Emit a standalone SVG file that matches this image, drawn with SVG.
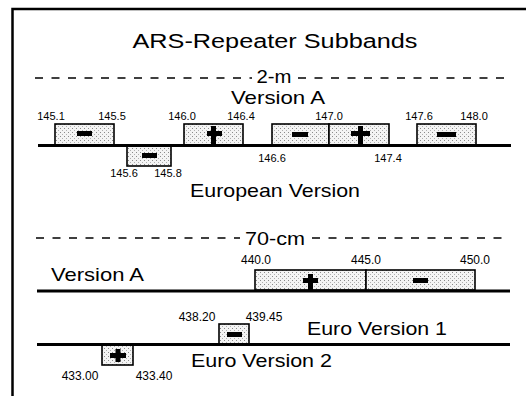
<svg xmlns="http://www.w3.org/2000/svg" width="526" height="396" viewBox="0 0 526 396">
<defs>
<pattern id="dots" width="4" height="4" patternUnits="userSpaceOnUse">
<rect width="4" height="4" fill="#f4f4f4"/>
<rect x="0" y="0" width="1" height="1" fill="#8a8a8a"/>
<rect x="2" y="2" width="1" height="1" fill="#b0b0b0"/>
</pattern>
</defs>
<style>
text{font-family:"Liberation Sans",Arial,Helvetica,sans-serif;fill:#000}
.big{font-size:19px}
.ttl{font-size:20px}
.lbl{font-size:11px}
.lbl2{font-size:12px}
.box{fill:url(#dots);stroke:#000;stroke-width:1.6}
.axis{stroke:#000;stroke-width:3;fill:none}
.dash{stroke:#000;stroke-width:1.3;stroke-dasharray:8 8.5;fill:none}
.sym{fill:#000}
.frame{stroke:#000;stroke-width:2.5;fill:none}
</style>
<rect width="526" height="396" fill="#fff"/>
<path class="frame" d="M12.5,396 V9 H526"/>
<text class="ttl" x="275" y="48" text-anchor="middle" textLength="285" lengthAdjust="spacingAndGlyphs">ARS-Repeater Subbands</text>

<g id="sec-2m">
<path class="dash" d="M35,78 H252 M298,78 H510"/>
<text class="big" x="274" y="83" text-anchor="middle" textLength="35" lengthAdjust="spacingAndGlyphs">2-m</text>
<text class="big" x="278" y="104" text-anchor="middle" textLength="94" lengthAdjust="spacingAndGlyphs">Version A</text>
<text class="big" x="275" y="197" text-anchor="middle" textLength="170" lengthAdjust="spacingAndGlyphs">European Version</text>
</g>

<g id="sec-70cm">
<path class="dash" d="M36,238 H240 M312,238 H510"/>
<text class="big" x="275" y="245" text-anchor="middle" textLength="60" lengthAdjust="spacingAndGlyphs">70-cm</text>
<text class="big" x="51" y="281" textLength="93" lengthAdjust="spacingAndGlyphs">Version A</text>
<text class="big" x="307" y="335" textLength="140" lengthAdjust="spacingAndGlyphs">Euro Version 1</text>
<text class="big" x="191" y="367" textLength="141" lengthAdjust="spacingAndGlyphs">Euro Version 2</text>
</g>

<g id="box-145.1-145.5">
<rect class="box" x="55" y="124" width="59" height="21"/>
<rect class="sym" x="77" y="131" width="15" height="5"/>
<text class="lbl" x="51" y="120" text-anchor="middle">145.1</text>
<text class="lbl" x="112" y="120" text-anchor="middle">145.5</text>
</g>
<g id="box-145.6-145.8">
<rect class="box" x="127" y="145" width="44" height="21"/>
<rect class="sym" x="142" y="153" width="15" height="5"/>
<text class="lbl" x="124" y="177" text-anchor="middle">145.6</text>
<text class="lbl" x="168" y="177" text-anchor="middle">145.8</text>
</g>
<g id="box-146.0-146.4">
<rect class="box" x="184" y="124" width="59" height="21"/>
<rect class="sym" x="207" y="131" width="15" height="5"/>
<rect class="sym" x="211" y="126" width="5" height="19"/>
<text class="lbl" x="182" y="120" text-anchor="middle">146.0</text>
<text class="lbl" x="241" y="120" text-anchor="middle">146.4</text>
</g>
<g id="box-146.6-147.0">
<rect class="box" x="272" y="124" width="57" height="21"/>
<rect class="sym" x="292" y="132" width="16" height="5"/>
<text class="lbl" x="272" y="162" text-anchor="middle">146.6</text>
<text class="lbl" x="329" y="120" text-anchor="middle">147.0</text>
</g>
<g id="box-147.0-147.4">
<rect class="box" x="329" y="124" width="60" height="21"/>
<rect class="sym" x="351" y="131" width="19" height="5"/>
<rect class="sym" x="358" y="126" width="5" height="19"/>
<text class="lbl" x="388" y="162" text-anchor="middle">147.4</text>
</g>
<g id="box-147.6-148.0">
<rect class="box" x="417" y="124" width="59" height="21"/>
<rect class="sym" x="437" y="132" width="19" height="5"/>
<text class="lbl" x="419" y="120" text-anchor="middle">147.6</text>
<text class="lbl" x="474" y="120" text-anchor="middle">148.0</text>
</g>

<g id="box-440-445">
<rect class="box" x="255" y="270" width="111" height="20"/>
<rect class="sym" x="303" y="278" width="15" height="5"/>
<rect class="sym" x="308" y="274" width="5" height="16"/>
<text class="lbl2" x="256" y="264" text-anchor="middle">440.0</text>
<text class="lbl2" x="366" y="264" text-anchor="middle">445.0</text>
</g>
<g id="box-445-450">
<rect class="box" x="366" y="270" width="109" height="20"/>
<rect class="sym" x="413" y="278" width="15" height="5"/>
<text class="lbl2" x="475" y="264" text-anchor="middle">450.0</text>
</g>
<g id="box-438.20-439.45">
<rect class="box" x="219" y="324" width="30" height="20"/>
<rect class="sym" x="227" y="332" width="15" height="5"/>
<text class="lbl2" x="197" y="321" text-anchor="middle">438.20</text>
<text class="lbl2" x="264" y="321" text-anchor="middle">439.45</text>
</g>
<g id="box-433.00-433.40">
<rect class="box" x="102" y="344" width="31" height="21"/>
<rect class="sym" x="110" y="353" width="16" height="5"/>
<rect class="sym" x="115.5" y="349" width="5" height="13"/>
<text class="lbl2" x="80" y="380" text-anchor="middle">433.00</text>
<text class="lbl2" x="154" y="380" text-anchor="middle">433.40</text>
</g>

<g id="connectors">
<path class="axis" d="M38,145.5 H511"/>
<path class="axis" d="M37,291 H510"/>
<path class="axis" d="M37,344.5 H510"/>
</g>
</svg>
